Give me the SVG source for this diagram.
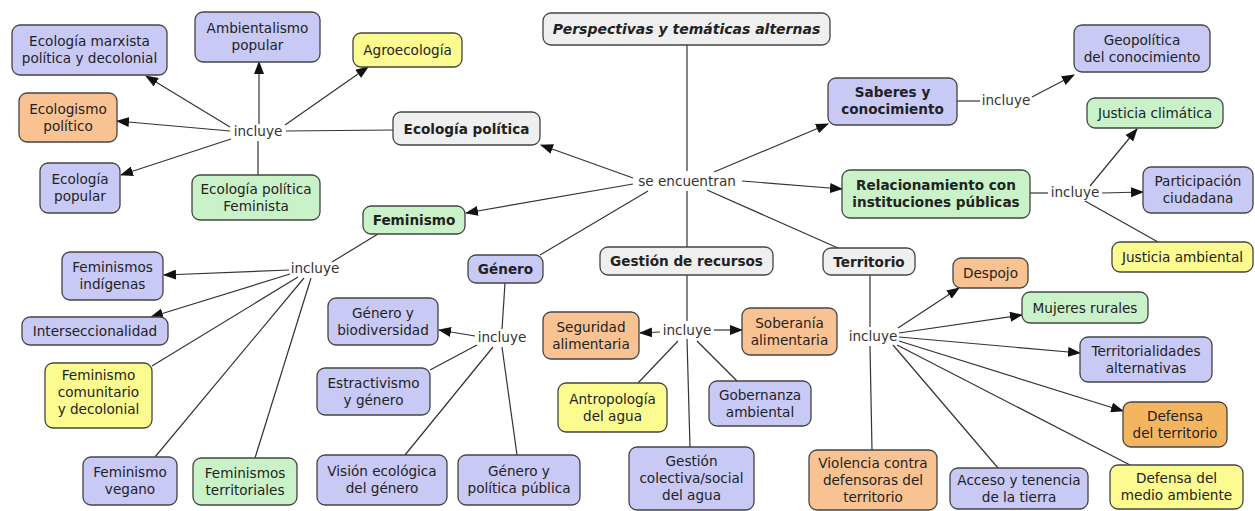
<svg xmlns="http://www.w3.org/2000/svg" width="1255" height="511" viewBox="0 0 1255 511">
<style>
.n{stroke:#444;stroke-width:1.3}
.p{fill:#c9c9f6}.o{fill:#f9c292}.do{fill:#f4b560}.y{fill:#fbfb8f}.g{fill:#c9f2c9}.gr{fill:#efefef}
text{font-family:"DejaVu Sans",Verdana,sans-serif;font-size:13.6px;fill:#222;text-anchor:middle}
.b{font-weight:bold}
.bi{font-weight:bold;font-style:italic;font-size:14px}
.l{fill:#333}
#c line{stroke:#333;stroke-width:1.2}
#c .a{marker-end:url(#ah)}
</style>
<defs>
<marker id="ah" markerWidth="13" markerHeight="10" refX="12" refY="5" orient="auto" markerUnits="userSpaceOnUse">
<path d="M0,0 L13,5 L0,10 z" fill="#111"/>
</marker>
</defs>
<rect width="1255" height="511" fill="#fff"/>
<g id="c">
<line x1="687" y1="45" x2="687" y2="171"/>
<line x1="687" y1="191" x2="687" y2="247"/>
<line class="a" x1="633" y1="178" x2="541" y2="145"/>
<line class="a" x1="633" y1="184" x2="466" y2="213"/>
<line x1="648" y1="191" x2="540" y2="255"/>
<line class="a" x1="714" y1="172" x2="828" y2="124"/>
<line class="a" x1="742" y1="181" x2="842" y2="189"/>
<line x1="707" y1="190" x2="838" y2="248"/>
<line x1="393" y1="130" x2="286" y2="131"/>
<line class="a" x1="230" y1="127" x2="146" y2="76"/>
<line class="a" x1="259" y1="124" x2="259" y2="62"/>
<line class="a" x1="285" y1="125" x2="368" y2="67"/>
<line class="a" x1="230" y1="131" x2="117" y2="121"/>
<line class="a" x1="231" y1="139" x2="121" y2="175"/>
<line x1="258" y1="141" x2="258" y2="175"/>
<line x1="957" y1="101" x2="980" y2="101"/>
<line class="a" x1="1032" y1="97" x2="1074" y2="75"/>
<line x1="1030" y1="193" x2="1048" y2="193"/>
<line class="a" x1="1090" y1="186" x2="1137" y2="129"/>
<line class="a" x1="1102" y1="193" x2="1143" y2="192"/>
<line x1="1085" y1="201" x2="1158" y2="242"/>
<line x1="332" y1="262" x2="378" y2="234"/>
<line class="a" x1="289" y1="270" x2="164" y2="275"/>
<line class="a" x1="290" y1="274" x2="151" y2="317"/>
<line x1="298" y1="277" x2="152" y2="366"/>
<line x1="304" y1="278" x2="155" y2="457"/>
<line x1="311" y1="278" x2="255" y2="458"/>
<line x1="505" y1="283" x2="502" y2="329"/>
<line class="a" x1="475" y1="336" x2="439" y2="330"/>
<line x1="477" y1="345" x2="430" y2="370"/>
<line x1="493" y1="347" x2="405" y2="455"/>
<line x1="502" y1="347" x2="517" y2="455"/>
<line x1="687" y1="275" x2="687" y2="321"/>
<line x1="687" y1="339" x2="690" y2="447"/>
<line class="a" x1="660" y1="332" x2="640" y2="333"/>
<line class="a" x1="714" y1="330" x2="742" y2="330"/>
<line x1="678" y1="341" x2="638" y2="383"/>
<line x1="697" y1="341" x2="737" y2="381"/>
<line x1="870" y1="275" x2="870" y2="327"/>
<line x1="870" y1="346" x2="872" y2="450"/>
<line class="a" x1="898" y1="328" x2="959" y2="288"/>
<line class="a" x1="899" y1="333" x2="1022" y2="315"/>
<line class="a" x1="899" y1="337" x2="1080" y2="353"/>
<line class="a" x1="899" y1="341" x2="1123" y2="411"/>
<line x1="893" y1="345" x2="998" y2="468"/>
<line x1="897" y1="345" x2="1130" y2="465"/>
</g>
<g id="labels">
<text class="l" x="687" y="186">se encuentran</text>
<text class="l" x="258" y="136">incluye</text>
<text class="l" x="1006" y="105">incluye</text>
<text class="l" x="1075" y="197">incluye</text>
<text class="l" x="315" y="273">incluye</text>
<text class="l" x="502" y="342">incluye</text>
<text class="l" x="687" y="335">incluye</text>
<text class="l" x="873" y="341">incluye</text>
</g>
<g id="perspectivas"><rect class="n gr" x="543" y="13" width="287" height="32" rx="8"/><text class="bi" x="686.5" y="34">Perspectivas y temáticas alternas</text></g>
<g id="ecopol"><rect class="n gr" x="393" y="112" width="147" height="33" rx="8"/><text class="b" x="466.5" y="133.5">Ecología política</text></g>
<g id="feminismo"><rect class="n g" x="363" y="206" width="102" height="28" rx="8"/><text class="b" x="414" y="225">Feminismo</text></g>
<g id="genero"><rect class="n p" x="468" y="255" width="75" height="28" rx="8"/><text class="b" x="505.5" y="274">Género</text></g>
<g id="gestion"><rect class="n gr" x="600" y="247" width="173" height="28" rx="8"/><text class="b" x="686.5" y="266">Gestión de recursos</text></g>
<g id="territorio"><rect class="n gr" x="823" y="248" width="92" height="27" rx="8"/><text class="b" x="869" y="266.5">Territorio</text></g>
<g id="saberes"><rect class="n p" x="828" y="78" width="129" height="47" rx="8"/><text class="b" x="892.5" y="97">Saberes y</text><text class="b" x="892.5" y="114">conocimiento</text></g>
<g id="relac"><rect class="n g" x="842" y="170" width="188" height="48" rx="8"/><text class="b" x="936" y="189.5">Relacionamiento con</text><text class="b" x="936" y="206.5">instituciones públicas</text></g>
<g id="ecomarx"><rect class="n p" x="12" y="25" width="155" height="50" rx="8"/><text x="89.5" y="46">Ecología marxista</text><text x="89.5" y="63">política y decolonial</text></g>
<g id="ambient"><rect class="n p" x="195" y="12" width="125" height="50" rx="8"/><text x="257.5" y="33">Ambientalismo</text><text x="257.5" y="50">popular</text></g>
<g id="agroeco"><rect class="n y" x="353" y="33" width="109" height="34" rx="8"/><text x="407.5" y="55">Agroecología</text></g>
<g id="ecologismo"><rect class="n o" x="19" y="93" width="98" height="49" rx="8"/><text x="68" y="113.5">Ecologismo</text><text x="68" y="130.5">político</text></g>
<g id="ecopop"><rect class="n p" x="40" y="163" width="80" height="50" rx="8"/><text x="80" y="184">Ecología</text><text x="80" y="201">popular</text></g>
<g id="ecofem"><rect class="n g" x="192" y="175" width="128" height="45" rx="8"/><text x="256" y="193.5">Ecología política</text><text x="256" y="210.5">Feminista</text></g>
<g id="geopol"><rect class="n p" x="1074" y="25" width="136" height="47" rx="8"/><text x="1142" y="44.5">Geopolítica</text><text x="1142" y="61.5">del conocimiento</text></g>
<g id="justclim"><rect class="n g" x="1087" y="98" width="136" height="30" rx="8"/><text x="1155" y="118">Justicia climática</text></g>
<g id="particip"><rect class="n p" x="1143" y="167" width="110" height="46" rx="8"/><text x="1198" y="186">Participación</text><text x="1198" y="203">ciudadana</text></g>
<g id="justamb"><rect class="n y" x="1112" y="242" width="141" height="30" rx="8"/><text x="1182.5" y="262">Justicia ambiental</text></g>
<g id="femind"><rect class="n p" x="62" y="252" width="101" height="48" rx="8"/><text x="112.5" y="272">Feminismos</text><text x="112.5" y="289">indígenas</text></g>
<g id="intersec"><rect class="n p" x="22" y="317" width="146" height="28" rx="8"/><text x="95" y="336">Interseccionalidad</text></g>
<g id="femcom"><rect class="n y" x="45" y="363" width="107" height="65" rx="8"/><text x="98.5" y="380">Feminismo</text><text x="98.5" y="397">comunitario</text><text x="98.5" y="414">y decolonial</text></g>
<g id="femveg"><rect class="n p" x="83" y="457" width="94" height="48" rx="8"/><text x="130" y="477">Feminismo</text><text x="130" y="494">vegano</text></g>
<g id="femterr"><rect class="n g" x="193" y="458" width="104" height="47" rx="8"/><text x="245" y="477.5">Feminismos</text><text x="245" y="494.5">territoriales</text></g>
<g id="genbio"><rect class="n p" x="328" y="298" width="110" height="47" rx="8"/><text x="383" y="317.5">Género y</text><text x="383" y="334.5">biodiversidad</text></g>
<g id="estract"><rect class="n p" x="317" y="368" width="113" height="47" rx="8"/><text x="373.5" y="387.5">Estractivismo</text><text x="373.5" y="404.5">y género</text></g>
<g id="vision"><rect class="n p" x="317" y="455" width="130" height="50" rx="8"/><text x="382" y="476">Visión ecológica</text><text x="382" y="493">del género</text></g>
<g id="genpol"><rect class="n p" x="458" y="455" width="122" height="50" rx="8"/><text x="519" y="476">Género y</text><text x="519" y="493">política pública</text></g>
<g id="seguridad"><rect class="n o" x="543" y="312" width="96" height="47" rx="8"/><text x="591" y="331.5">Seguridad</text><text x="591" y="348.5">alimentaria</text></g>
<g id="soberania"><rect class="n o" x="742" y="308" width="95" height="47" rx="8"/><text x="789.5" y="327.5">Soberanía</text><text x="789.5" y="344.5">alimentaria</text></g>
<g id="antropo"><rect class="n y" x="558" y="383" width="109" height="49" rx="8"/><text x="612.5" y="403.5">Antropología</text><text x="612.5" y="420.5">del agua</text></g>
<g id="gobern"><rect class="n p" x="709" y="381" width="102" height="45" rx="8"/><text x="760" y="399.5">Gobernanza</text><text x="760" y="416.5">ambiental</text></g>
<g id="gestcol"><rect class="n p" x="629" y="447" width="125" height="63" rx="8"/><text x="691.5" y="466">Gestión</text><text x="691.5" y="483">colectiva/social</text><text x="691.5" y="500">del agua</text></g>
<g id="violencia"><rect class="n o" x="809" y="450" width="128" height="60" rx="8"/><text x="873" y="468">Violencia contra</text><text x="873" y="485">defensoras del</text><text x="873" y="502">territorio</text></g>
<g id="despojo"><rect class="n o" x="953" y="258" width="75" height="30" rx="8"/><text x="990.5" y="278">Despojo</text></g>
<g id="mujeres"><rect class="n g" x="1022" y="292" width="126" height="31" rx="8"/><text x="1085" y="312.5">Mujeres rurales</text></g>
<g id="territalt"><rect class="n p" x="1080" y="337" width="132" height="45" rx="8"/><text x="1146" y="355.5">Territorialidades</text><text x="1146" y="372.5">alternativas</text></g>
<g id="defterr"><rect class="n do" x="1123" y="402" width="104" height="45" rx="8"/><text x="1175" y="420.5">Defensa</text><text x="1175" y="437.5">del territorio</text></g>
<g id="acceso"><rect class="n p" x="950" y="468" width="138" height="41" rx="8"/><text x="1019" y="485">Acceso y tenencia</text><text x="1019" y="502">de la tierra</text></g>
<g id="defmed"><rect class="n y" x="1110" y="465" width="133" height="44" rx="8"/><text x="1176.5" y="483">Defensa del</text><text x="1176.5" y="500">medio ambiente</text></g>
</svg>
